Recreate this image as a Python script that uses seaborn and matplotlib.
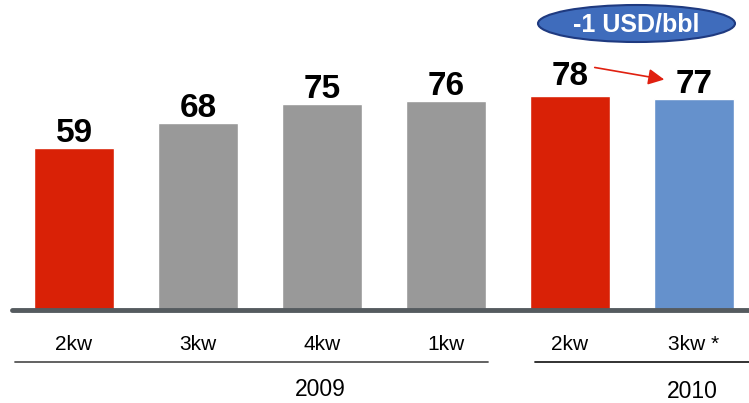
import matplotlib
matplotlib.use("Agg")
import matplotlib.pyplot as plt
import seaborn as sns
import pandas as pd
from matplotlib.patches import Ellipse

labels = ["2kw", "3kw", "4kw", "1kw", "2kw", "3kw *"]
years = ["2009", "2009", "2009", "2009", "2010", "2010"]
values = [59, 68, 75, 76, 78, 77]
colors = ["#D92106", "#999999", "#999999", "#999999", "#D92106", "#6591CC"]
badge_text = "-1 USD/bbl"

sns.set_theme(style="white")
plt.rcParams["font.family"] = ["Liberation Sans", "DejaVu Sans"]

W, H = 749, 403
fig = plt.figure(figsize=(W / 100, H / 100), dpi=100)
base_px = 310  # baseline from top
ax = fig.add_axes([0, (H - base_px) / H, 1, base_px / H])

keys = [f"{y}_{l}_{i}" for i, (y, l) in enumerate(zip(years, labels))]
df = pd.DataFrame({"key": keys, "value": values})
sns.barplot(data=df, x="key", y="value", hue="key", palette=dict(zip(keys, colors)),
            width=0.645, legend=False, ax=ax, saturation=1)

x0, step = 74, 124
ax.set_xlim(-x0 / step, (W - x0) / step)
ax.set_ylim(0, base_px / 2.746)
ax.axis("off")

# baseline
ax.axhline(0, xmin=12 / W, xmax=1, color="#555B5F", lw=3.5, clip_on=False, zorder=5)

# value labels (the 2010 "before" value sits a little higher, next to the arrow)
for i, v in enumerate(values):
    gap = 11 if i == 4 else 6
    ax.annotate(str(v), (i, v), xytext=(0, gap), textcoords="offset pixels",
                ha="center", va="baseline", fontsize=24, fontweight="bold", color="black")

for i, l in enumerate(labels):
    fx = (x0 + step * i) / W
    fig.text(fx, 1 - 344 / H, l, ha="center", va="center", fontsize=15, color="black")

# group lines
fig.add_artist(plt.Line2D([15 / W, 488 / W], [1 - 362 / H] * 2, color="#555555", lw=1.3))
fig.add_artist(plt.Line2D([535 / W, 1.0], [1 - 362 / H] * 2, color="#222222", lw=1.3))
fig.text(320 / W, 1 - 390 / H, "2009", ha="center", va="center", fontsize=16.5, color="black")
fig.text(692 / W, 1 - 392 / H, "2010", ha="center", va="center", fontsize=16.5, color="black")

# badge ellipse
e = Ellipse((636.5 / W, 1 - 23.5 / H), 197 / W, 37 / H, transform=fig.transFigure,
            facecolor="#3F6CBC", edgecolor="#1F3A80", lw=1.5)
fig.add_artist(e)
fig.text(636.5 / W, 1 - 24.5 / H, badge_text, ha="center", va="center", fontsize=18,
         fontweight="bold", color="white")

# arrow
ax.annotate("", xy=(667 / W, 1 - 80 / H), xytext=(592 / W, 1 - 67 / H),
            xycoords="figure fraction", textcoords="figure fraction",
            arrowprops=dict(arrowstyle="-|>", color="#E02010", lw=1.2, mutation_scale=24))

fig.savefig("out.png", dpi=100)
